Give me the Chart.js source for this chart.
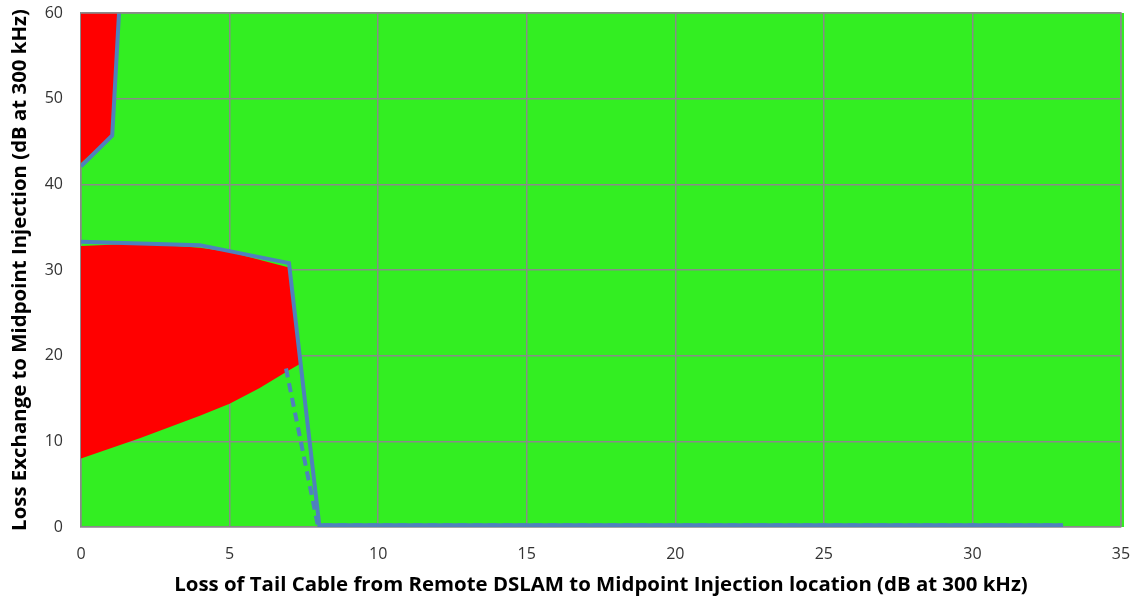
<!DOCTYPE html>
<html>
<head>
<meta charset="utf-8">
<script src="https://cdn.jsdelivr.net/npm/chart.js@4/dist/chart.umd.min.js"></script>
<style>
  html, body { margin: 0; padding: 0; background: #fff; }
  #wrap { width: 1142px; height: 601px; }
</style>
</head>
<body>
<div id="wrap"><canvas id="chartLoss" width="1142" height="601"></canvas></div>
<script>
// ── Data ──
const xTicks = [0, 5, 10, 15, 20, 25, 30, 35];
const yTicks = [0, 10, 20, 30, 40, 50, 60];

// background "ok" zone (whole plot)
const greenX = [0, 35];
const greenY = [0, 60];

// red zone top-left (closed shape)
const redTopX = [0, 0, 1.04, 1.25];
const redTopY = [60, 42.5, 45.8, 60];

// red zone middle (upper edge then lower edge back)
const redMidX = [0, 2, 4, 5, 7, 7.35, 7, 6, 5, 4, 2, 0];
const redMidY = [32.8, 33.1, 32.6, 32.1, 30.3, 19.0, 18.3, 16.2, 14.4, 13.0, 10.4, 8.0];

// blue boundary lines
const limitX = [0, 4, 7, 8.02, 33.05];
const limitY = [33.3, 32.9, 30.8, 0.2, 0.2];
const limitTopX = [0, 1.05, 1.28];
const limitTopY = [42.1, 45.7, 60];
const dashX = [6.9, 7.97, 33];
const dashY = [18.5, 0.2, 0.2];

const pts = (xs, ys) => xs.map((x, i) => ({ x, y: ys[i] }));

const blue = '#4F81BD';
const gridColor = '#8a8a8a';
const font = { family: 'Open Sans', size: 16 };
const titleFont = { family: 'Open Sans', size: 20.4, weight: 'bold' };

new Chart(document.getElementById('chartLoss'), {
  type: 'scatter',
  data: {
    datasets: [
      { data: pts(limitX, limitY), showLine: true, borderColor: blue, borderWidth: 4, pointRadius: 0, order: 1 },
      { data: pts(limitTopX, limitTopY), showLine: true, borderColor: blue, borderWidth: 4, pointRadius: 0, order: 1 },
      { data: pts(dashX, dashY), showLine: true, borderColor: blue, borderWidth: 4, borderDash: [9, 6], pointRadius: 0, order: 2 },
      { data: pts(redTopX, redTopY), showLine: true, borderWidth: 0, borderColor: 'rgba(0,0,0,0)', backgroundColor: '#FF0000', fill: 'shape', pointRadius: 0, order: 5 },
      { data: pts(redMidX, redMidY), showLine: true, borderWidth: 0, borderColor: 'rgba(0,0,0,0)', backgroundColor: '#FF0000', fill: 'shape', pointRadius: 0, order: 5 }
    ]
  },
  options: {
    responsive: false, animation: false,
    layout: { padding: { top: 13, right: 21, left: 0, bottom: 0 } },
    plugins: { legend: { display: false }, tooltip: { enabled: false } },
    scales: {
      x: {
        type: 'linear', min: 0, max: 35,
        afterBuildTicks: s => { s.ticks = xTicks.map(v => ({ value: v })); },
        afterFit: s => { s.height = 74; s.paddingLeft = 0; s.paddingRight = 0; },
        grid: { color: gridColor, lineWidth: 1.5, drawTicks: false },
        border: { color: gridColor, width: 1.5 },
        ticks: { color: '#333', font, padding: 18, maxRotation: 0 },
        title: { display: true, text: 'Loss of Tail Cable from Remote DSLAM to Midpoint Injection location (dB at 300 kHz)', color: '#000', font: titleFont, padding: { top: 4, bottom: 4 } }
      },
      y: {
        type: 'linear', min: 0, max: 60,
        afterBuildTicks: s => { s.ticks = yTicks.map(v => ({ value: v })); },
        afterFit: s => { s.width = 81; s.paddingTop = 0; s.paddingBottom = 0; },
        grid: { color: gridColor, lineWidth: 1.5, drawTicks: false },
        border: { color: gridColor, width: 1.5 },
        ticks: { color: '#333', font, padding: 18 },
        title: { display: true, text: 'Loss Exchange to Midpoint Injection (dB at 300 kHz)', color: '#000', font: titleFont, padding: { top: 8, bottom: 4 } }
      }
    }
  },
  plugins: [{
    // green zone painted under the grid, placed with the chart's own scales
    id: 'greenZone',
    beforeDraw(chart) {
      const { ctx, scales: { x, y } } = chart;
      const x0 = x.getPixelForValue(greenX[0]), x1 = x.getPixelForValue(greenX[1]);
      const y0 = y.getPixelForValue(greenY[0]), y1 = y.getPixelForValue(greenY[1]);
      ctx.save();
      ctx.fillStyle = '#33EE22';
      ctx.fillRect(x0, y1, x1 - x0 + 3, y0 - y1);
      ctx.restore();
    },
    // right/top frame lines like the original plot area
    afterDraw(chart) {
      const { ctx, chartArea: a } = chart;
      ctx.save();
      ctx.strokeStyle = gridColor; ctx.lineWidth = 1.5;
      ctx.beginPath();
      ctx.moveTo(a.left, a.top); ctx.lineTo(a.right, a.top); ctx.lineTo(a.right, a.bottom);
      ctx.stroke();
      ctx.restore();
    }
  }]
});
</script>
</body>
</html>
